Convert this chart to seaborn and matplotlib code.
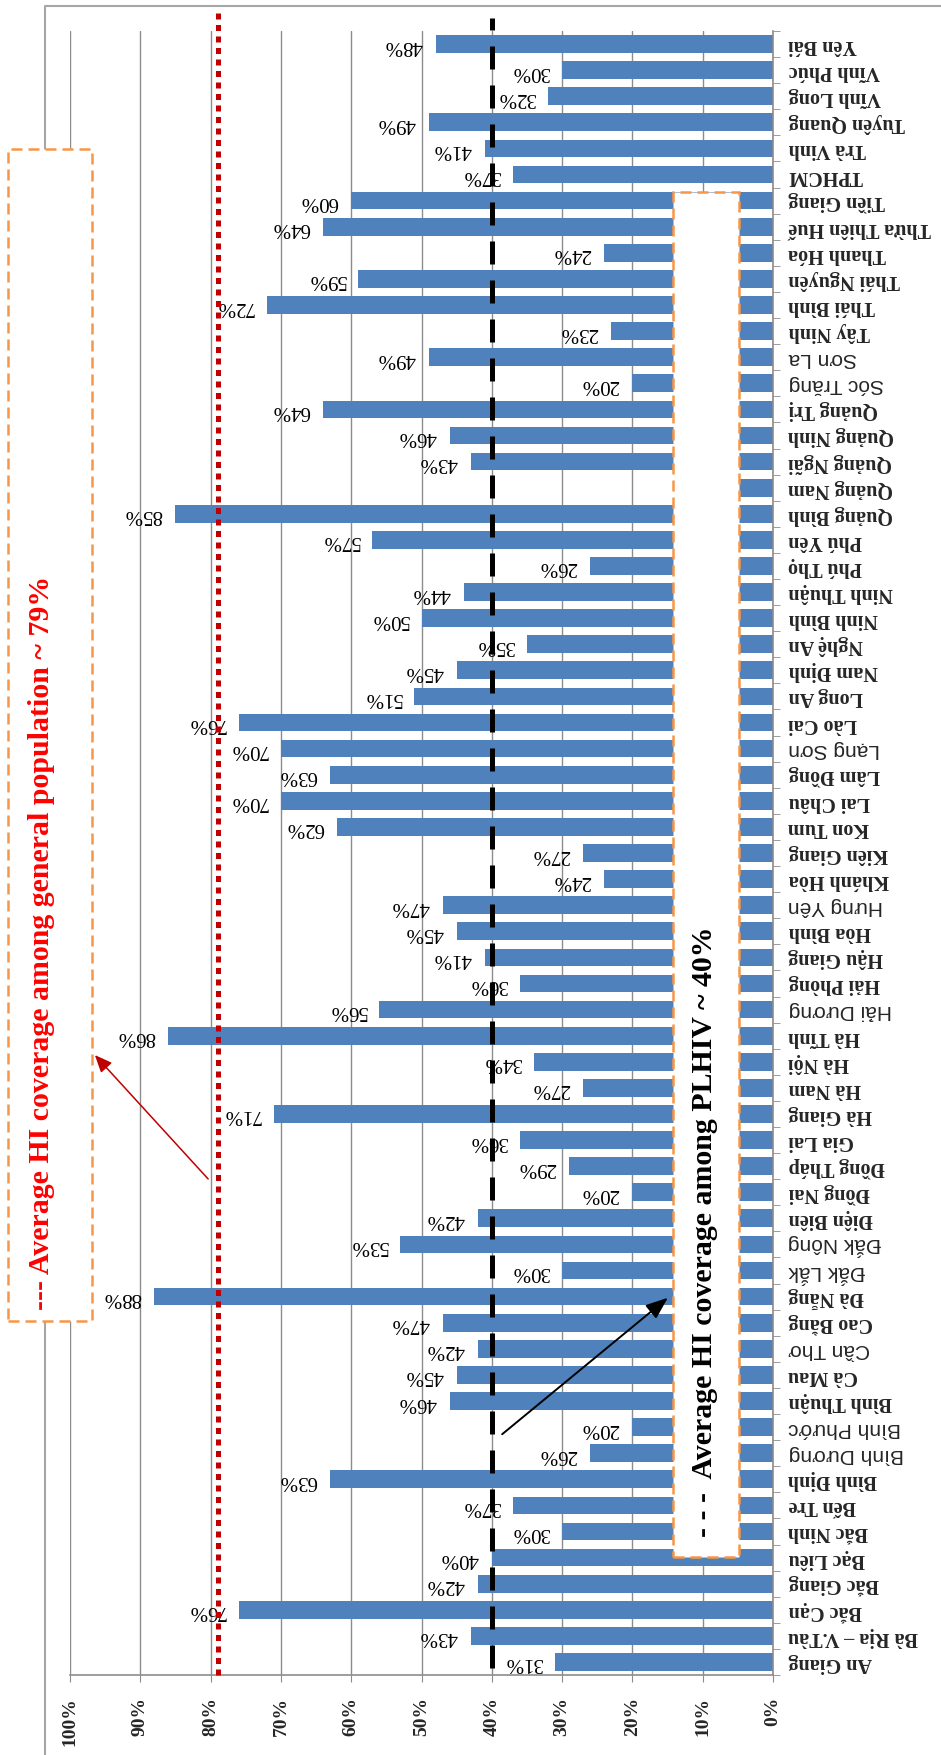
import numpy as np
import pandas as pd
import matplotlib
matplotlib.use("Agg")
import matplotlib.pyplot as plt
import seaborn as sns
from matplotlib.patches import Rectangle, FancyArrowPatch
from matplotlib.lines import Line2D

# data: health insurance coverage among PLHIV by province (%)
provinces = ["An Giang", "Bà Rịa – V.Tàu", "Bắc Cạn", "Bắc Giang", "Bạc Liêu", "Bắc Ninh",
             "Bến Tre", "Bình Định", "Bình Dương", "Bình Phước", "Bình Thuận", "Cà Mau",
             "Cần Thơ", "Cao Bằng", "Đà Nẵng", "Đắk Lắk", "Đắk Nông", "Điện Biên",
             "Đồng Nai", "Đồng Tháp", "Gia Lai", "Hà Giang", "Hà Nam", "Hà Nội", "Hà Tĩnh",
             "Hải Dương", "Hải Phòng", "Hậu Giang", "Hòa Bình", "Hưng Yên", "Khánh Hòa",
             "Kiên Giang", "Kon Tum", "Lai Châu", "Lâm Đồng", "Lạng Sơn", "Lào Cai",
             "Long An", "Nam Định", "Nghệ An", "Ninh Bình", "Ninh Thuận", "Phú Thọ",
             "Phú Yên", "Quảng Bình", "Quảng Nam", "Quảng Ngãi", "Quảng Ninh", "Quảng Trị",
             "Sóc Trăng", "Sơn La", "Tây Ninh", "Thái Bình", "Thái Nguyên", "Thanh Hóa",
             "Thừa Thiên Huế", "Tiền Giang", "TPHCM", "Trà Vinh", "Tuyên Quang",
             "Vĩnh Long", "Vĩnh Phúc", "Yên Bái"]
coverage = [31, 43, 76, 42, 40, 30, 37, 63, 26, 20,
            46, 45, 42, 47, 88, 30, 53, 42, 20, 29,
            36, 71, 27, 34, 86, 56, 36, 41, 45, 47,
            24, 27, 62, 70, 63, 70, 76, 51, 45, 35,
            50, 44, 26, 57, 85, 7, 43, 46, 64, 20,
            49, 23, 72, 59, 24, 64, 60, 37, 41, 49,
            32, 30, 48]
avg_plhiv = 40
avg_general = 79
x_ticks = list(range(0, 101, 10))
x_tick_labels = [f"{t}%" for t in x_ticks]
light_labels = ["Sóc Trăng", "Sơn La", "Lạng Sơn", "Hải Dương", "Hưng Yên",
                "Đắk Nông", "Đắk Lắk", "Cần Thơ", "Bình Phước", "Bình Dương"]

df = pd.DataFrame({"province": provinces, "coverage": coverage})
order = provinces[::-1]   # seaborn puts first category on top

W, H = 941, 1756
serif = ["Liberation Serif", "DejaVu Serif"]
sans = ["Liberation Sans", "DejaVu Sans"]
grey = "#8C8C8C"

sns.set_style("white")
fig = plt.figure(figsize=(W / 100, H / 100), dpi=100)
ax = fig.add_axes([70 / W, (H - 1676) / H, 703 / W, 1644 / H])

sns.barplot(data=df, x="coverage", y="province", order=order, orient="h",
            color="#4F81BD", saturation=1, width=0.68, errorbar=None,
            linewidth=0, ax=ax)

ax.set_xlim(100, 0)
ax.set_xlabel("")
ax.set_ylabel("")
ax.set_axisbelow(True)
ax.grid(axis="x", color=grey, linewidth=1)
ax.grid(axis="y", visible=False)

for s in ["top", "left"]:
    ax.spines[s].set_visible(False)
for s in ["bottom", "right"]:
    ax.spines[s].set_color(grey)
    ax.spines[s].set_linewidth(1.2)

# value axis
ax.set_xticks(x_ticks)
ax.set_xticklabels(x_tick_labels, rotation=90, ha="center", va="top",
                   fontfamily=serif, fontweight="bold", fontsize=14)
ax.tick_params(axis="x", direction="out", length=5, color=grey, pad=10, bottom=True)

# category axis on the right, labels upside down
ax.yaxis.tick_right()
ax.set_yticks(range(len(order)))
ax.set_yticklabels(order, rotation=180, ha="left", va="center")
ax.set_yticks(np.arange(-0.5, len(order), 1), minor=True)
ax.tick_params(axis="y", which="major", length=0, pad=11)
ax.tick_params(axis="y", which="minor", length=5, color=grey, right=True, left=False)
for t, name in zip(ax.yaxis.get_major_ticks(), order):
    lab = t.label2
    if name in light_labels:
        lab.set_fontfamily(sans)
        lab.set_fontsize(15)
        lab.set_fontweight("normal")
    else:
        lab.set_fontfamily(serif)
        lab.set_fontsize(14.5)
        lab.set_fontweight("bold")

# value labels
for i, name in enumerate(order):
    v = coverage[provinces.index(name)]
    ax.annotate(f"{v}%", xy=(v, i), xytext=(-13, 0), textcoords="offset pixels",
                rotation=180, ha="right", va="center", fontsize=15,
                fontfamily=serif, color="black", zorder=4)

# reference lines
ax.axvline(avg_plhiv, ymin=0.004, ymax=1.008, color="black", lw=3.6,
           dashes=(4.6, 3.2), clip_on=False, zorder=5)
ax.axvline(avg_general, ymin=0, ymax=1.0116, color="#C00000", lw=3.6,
           dashes=(1.2, 1.1), clip_on=False, zorder=5)

# chart border
fig.add_artist(Line2D([45 / W, 45 / W, 1.0], [0, 1 - 7 / H, 1 - 7 / H],
                      transform=fig.transFigure, color="#A6A6A6", lw=1.5, zorder=1))


def box(x0, y0, x1, y1):
    fig.add_artist(Rectangle((x0 / W, 1 - y1 / H), (x1 - x0) / W, (y1 - y0) / H,
                             transform=fig.transFigure, facecolor="white",
                             edgecolor="#F79646", lw=1.8,
                             linestyle=(0, (4.4, 2.4)), zorder=10))


box(8, 150, 92, 1322)
box(673, 193, 739, 1558)

fig.text(42 / W, 1 - 1310 / H, "--- Average HI coverage among general population ~ 79%",
         rotation=90, ha="center", va="bottom", color="#FF0000", fontsize=21.5,
         fontweight="bold", fontfamily=serif, zorder=11)
fig.text(704 / W, 1 - 1537 / H, "- - -  Average HI coverage among PLHIV ~ 40%",
         rotation=90, ha="center", va="bottom", color="black", fontsize=21.5,
         fontweight="bold", fontfamily=serif, zorder=11)

fig.add_artist(FancyArrowPatch((500 / W, 1 - 1437 / H), (670 / W, 1 - 1297 / H),
                               transform=fig.transFigure,
                               arrowstyle="-|>,head_length=0.9,head_width=0.35",
                               mutation_scale=15, color="black", lw=1.4, zorder=12))
fig.add_artist(FancyArrowPatch((210 / W, 1 - 1182 / H), (93 / W, 1 - 1054 / H),
                               transform=fig.transFigure,
                               arrowstyle="-|>,head_length=0.7,head_width=0.3",
                               mutation_scale=15, color="#C00000", lw=1.1, zorder=12))

fig.savefig("out.png", dpi=100)
